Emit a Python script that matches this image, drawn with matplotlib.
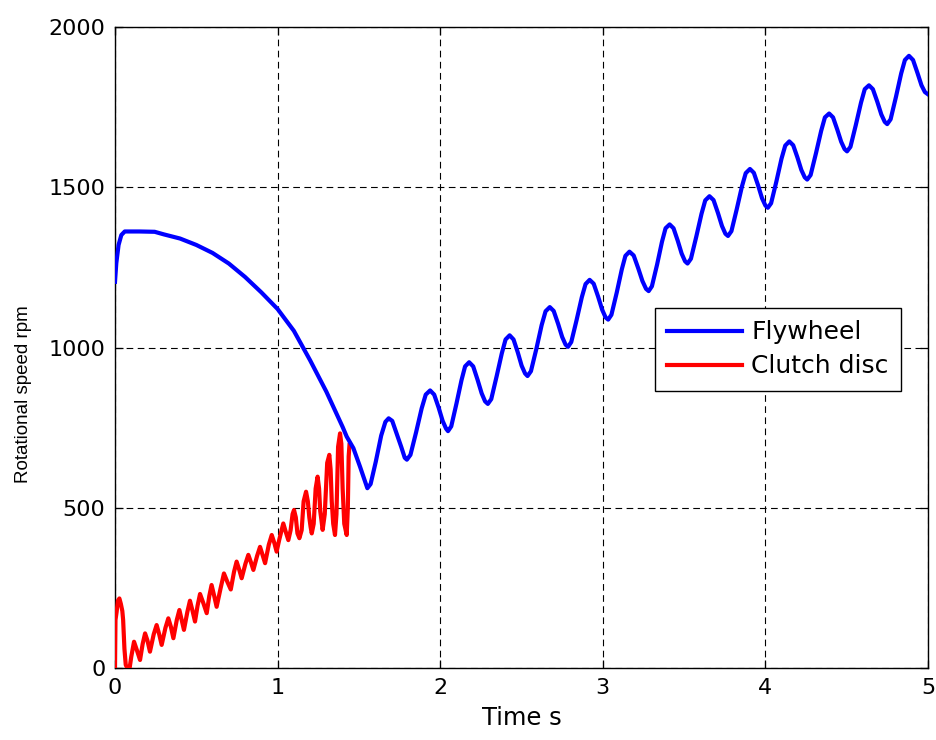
import matplotlib
matplotlib.use("Agg")
import matplotlib.pyplot as plt

# Flywheel speed (rpm) versus time (s)
flywheel_t = [
    0.000, 0.008, 0.022, 0.039, 0.060, 0.150, 0.244, 0.300, 0.400, 0.500,
    0.600, 0.700, 0.800, 0.900, 1.000, 1.100, 1.200, 1.300, 1.400, 1.425,
    1.466, 1.507, 1.552,
    1.572, 1.604, 1.637, 1.663, 1.683,
    1.705, 1.733, 1.761, 1.782, 1.795,
    1.817, 1.852, 1.886, 1.911, 1.938,
    1.963, 1.990, 2.015, 2.036, 2.048,
    2.068, 2.100, 2.131, 2.153, 2.178,
    2.203, 2.230, 2.255, 2.276, 2.293,
    2.314, 2.347, 2.379, 2.402, 2.427,
    2.451, 2.477, 2.501, 2.522, 2.537,
    2.558, 2.592, 2.624, 2.648, 2.674,
    2.698, 2.725, 2.750, 2.771, 2.786,
    2.806, 2.839, 2.871, 2.894, 2.919,
    2.944, 2.971, 2.996, 3.017, 3.033,
    3.053, 3.086, 3.117, 3.139, 3.164,
    3.190, 3.218, 3.244, 3.266, 3.282,
    3.302, 3.334, 3.364, 3.386, 3.411,
    3.435, 3.461, 3.485, 3.506, 3.521,
    3.542, 3.575, 3.607, 3.630, 3.656,
    3.681, 3.708, 3.733, 3.754, 3.770,
    3.791, 3.824, 3.856, 3.879, 3.905,
    3.929, 3.955, 3.979, 4.000, 4.015,
    4.035, 4.068, 4.099, 4.122, 4.147,
    4.171, 4.197, 4.221, 4.242, 4.257,
    4.278, 4.311, 4.343, 4.366, 4.392,
    4.416, 4.442, 4.466, 4.487, 4.502,
    4.523, 4.556, 4.588, 4.611, 4.637,
    4.661, 4.688, 4.713, 4.734, 4.749,
    4.770, 4.803, 4.835, 4.858, 4.883,
    4.908, 4.935, 4.960, 4.981, 5.000,
]
flywheel_rpm = [
    1205, 1263, 1320, 1351, 1362, 1362, 1361, 1353, 1340, 1320,
    1295, 1262, 1220, 1172, 1120, 1052, 960, 862, 752, 722,
    686, 628, 561,
    574, 644, 725, 768, 779,
    771, 730, 689, 656, 650,
    665, 736, 810, 853, 866,
    853, 813, 771, 747, 739,
    754, 825, 898, 941, 954,
    941, 899, 857, 832, 824,
    839, 910, 982, 1025, 1038,
    1025, 985, 943, 919, 911,
    926, 997, 1070, 1113, 1126,
    1114, 1074, 1033, 1009, 1002,
    1017, 1086, 1157, 1198, 1211,
    1199, 1159, 1118, 1094, 1087,
    1102, 1172, 1244, 1286, 1299,
    1287, 1247, 1207, 1183, 1176,
    1191, 1259, 1330, 1372, 1384,
    1372, 1333, 1293, 1269, 1262,
    1277, 1346, 1417, 1459, 1472,
    1460, 1420, 1379, 1355, 1348,
    1363, 1432, 1503, 1544, 1557,
    1545, 1506, 1466, 1443, 1436,
    1450, 1519, 1589, 1630, 1643,
    1631, 1593, 1554, 1531, 1524,
    1538, 1606, 1676, 1718, 1730,
    1718, 1680, 1642, 1619, 1612,
    1626, 1694, 1764, 1806, 1818,
    1806, 1767, 1727, 1704, 1697,
    1712, 1782, 1855, 1897, 1910,
    1897, 1857, 1818, 1797, 1790,
]

# Clutch disc speed (rpm) versus time (s), until lock-up
clutch_t = [
    0.000, 0.003, 0.010, 0.018, 0.027, 0.036, 0.045, 0.050, 0.058, 0.066,
    0.075, 0.090, 0.100, 0.117, 0.135, 0.154, 0.170, 0.185, 0.200, 0.215,
    0.238, 0.256, 0.272, 0.287, 0.310, 0.328, 0.344, 0.359, 0.380, 0.396,
    0.410, 0.424, 0.445, 0.461, 0.477, 0.492, 0.508, 0.523, 0.545, 0.564,
    0.580, 0.594, 0.610, 0.625, 0.650, 0.670, 0.690, 0.712, 0.732, 0.748,
    0.765, 0.779, 0.802, 0.820, 0.836, 0.851, 0.874, 0.892, 0.908, 0.923,
    0.946, 0.964, 0.980, 0.994, 1.010, 1.035, 1.050, 1.066, 1.080, 1.092,
    1.101, 1.112, 1.122, 1.134, 1.148, 1.160, 1.175, 1.186, 1.195, 1.203,
    1.210, 1.222, 1.234, 1.246, 1.255, 1.262, 1.270, 1.277, 1.290, 1.305,
    1.318, 1.326, 1.333, 1.342, 1.353, 1.362, 1.372, 1.384, 1.392, 1.400,
    1.410, 1.425, 1.432, 1.437, 1.442,
]
clutch_rpm = [
    0, 150, 175, 210, 217, 200, 178, 150, 60, 10,
    0, 0, 35, 82, 55, 25, 75, 108, 85, 51,
    105, 134, 105, 72, 125, 155, 128, 93, 150, 181,
    150, 119, 175, 210, 178, 145, 195, 231, 200, 171,
    225, 259, 225, 191, 250, 295, 270, 245, 300, 332,
    305, 280, 325, 353, 330, 306, 350, 378, 352, 327,
    385, 415, 390, 363, 400, 451, 425, 399, 430, 480,
    493, 470, 420, 405, 430, 520, 550, 520, 470, 440,
    420, 450, 560, 597, 560, 490, 460, 431, 480, 640,
    665, 620, 520, 450, 415, 480, 690, 732, 700, 560,
    450, 415, 500, 660, 696,
]

series_labels = ["Flywheel", "Clutch disc"]
x_ticks = [0, 1, 2, 3, 4, 5]
y_ticks = [0, 500, 1000, 1500, 2000]

plt.rcParams["font.family"] = ["DejaVu Sans"]

fig = plt.figure(figsize=(9.37, 7.40), dpi=100)
ax = fig.add_axes([115 / 937, 1 - 668 / 740, 813 / 937, 641 / 740])

ax.plot(clutch_t, clutch_rpm, color="#ff0000", lw=3.0,
        label=series_labels[1], zorder=3)
ax.plot(flywheel_t, flywheel_rpm, color="#0000ff", lw=3.0,
        label=series_labels[0], zorder=4)

ax.set_xlim(0, 5)
ax.set_ylim(0, 2000)
ax.set_xticks(x_ticks)
ax.set_yticks(y_ticks)
ax.tick_params(direction="in", length=6, width=0.9, top=True, right=True,
               labelsize=16, pad=7, colors="black")
for s in ax.spines.values():
    s.set_linewidth(1.0)
    s.set_color("black")

ax.grid(True, color="black", lw=0.8, linestyle=(0, (6, 4)))
ax.set_axisbelow(True)

ax.set_xlabel("Time s", fontsize=17.5)
ax.xaxis.set_label_coords(0.5, -0.06)
ax.set_ylabel("Rotational speed rpm", fontsize=13.5,
              family=["Liberation Sans", "DejaVu Sans"])
ax.yaxis.set_label_coords(-0.102, 0.427)

h, l = ax.get_legend_handles_labels()
leg = ax.legend(h[::-1], l[::-1], loc="upper left", bbox_to_anchor=(0.664, 0.562),
                borderaxespad=0, fancybox=False, framealpha=1, edgecolor="black",
                fontsize=18, handlelength=3.0, handletextpad=0.35,
                borderpad=0.5, labelspacing=0.4)
leg.get_frame().set_linewidth(1.0)

fig.savefig("out.png", dpi=100)
